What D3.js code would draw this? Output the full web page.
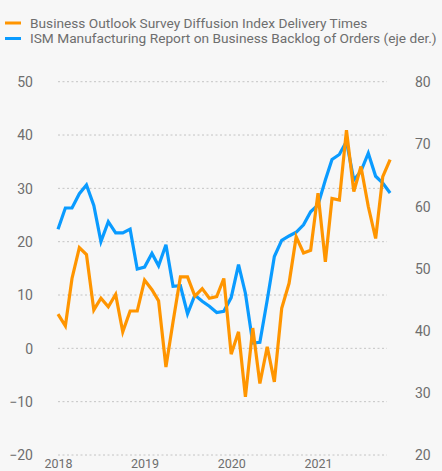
<!DOCTYPE html>
<html>
<head>
<meta charset="utf-8">
<script src="https://cdn.jsdelivr.net/npm/d3@7"></script>
<style>
  html, body { margin: 0; padding: 0; background: #f7f7f7; }
  svg { display: block; }
  text { font-family: Roboto, "Noto Sans", sans-serif; fill: #6e6e6e; }
</style>
</head>
<body>
<svg></svg>
<script>
var months = [
  '2018-01', '2018-02', '2018-03', '2018-04', '2018-05', '2018-06', '2018-07', '2018-08', '2018-09', '2018-10', '2018-11', '2018-12',
  '2019-01', '2019-02', '2019-03', '2019-04', '2019-05', '2019-06', '2019-07', '2019-08', '2019-09', '2019-10', '2019-11', '2019-12',
  '2020-01', '2020-02', '2020-03', '2020-04', '2020-05', '2020-06', '2020-07', '2020-08', '2020-09', '2020-10', '2020-11', '2020-12',
  '2021-01', '2021-02', '2021-03', '2021-04', '2021-05', '2021-06', '2021-07', '2021-08', '2021-09', '2021-10', '2021-11'
];
// left axis
var deliveryTimes = [
  6.4, 4.2, 13.1, 18.9, 17.6, 7.2, 9.4, 7.8, 10.1, 3.1, 7.0, 7.0,
  12.8, 11.0, 8.9, -3.5, 5.0, 13.4, 13.4, 9.8, 11.2, 9.4, 9.7, 13.1,
  -1.1, 3.1, -9.1, 3.8, -6.6, 0.3, -6.3, 7.5, 12.2, 20.9, 17.9, 18.4,
  29.1, 16.2, 28.1, 27.8, 40.9, 29.4, 34.1, 26.6, 20.6, 32.2, 35.4
];
// right axis (eje der.)
var backlogOrders = [
  56.3, 59.7, 59.7, 62.0, 63.4, 60.1, 54.3, 57.5, 55.7, 55.7, 56.3, 49.9,
  50.2, 52.4, 50.4, 53.8, 47.1, 47.2, 42.7, 45.7, 44.7, 43.9, 42.9, 43.1,
  45.3, 50.6, 46.0, 38.0, 38.1, 44.9, 51.9, 54.5, 55.2, 55.8, 57.0, 59.1,
  60.2, 64.2, 67.5, 68.3, 70.4, 64.2, 65.6, 68.5, 64.8, 63.7, 62.1
];
var leftTicks = [-20, -10, 0, 10, 20, 30, 40, 50];
var rightTicks = [20, 30, 40, 50, 60, 70, 80];
var yearTicks = ['2018', '2019', '2020', '2021'];
var legendLabels = [
  'Business Outlook Survey Diffusion Index Delivery Times',
  'ISM Manufacturing Report on Business Backlog of Orders (eje der.)'
];

window.Chart = (function() {
  var W = 442, H = 471;
  var ORANGE = '#ff9500';
  var BLUE = '#0a9bff';
  var parse = d3.timeParse('%Y-%m');
  var dates = months.map(parse);

  var x = d3.scaleTime()
    .domain([parse('2018-01'), parse('2021-01')])
    .range([58, 318]);
  var yL = d3.scaleLinear().domain([-20, 50]).range([455, 81.7]);
  var yR = d3.scaleLinear().domain([20, 80]).range([455, 81.7]);

  var draw = function draw() {
    var $svg = d3.select('svg').attr('width', W).attr('height', H);

    // Grid lines follow the left axis
    $svg.append('g').selectAll('line').data(leftTicks).enter().append('line')
      .attr('x1', 58).attr('x2', 387)
      .attr('y1', function(d) { return yL(d); })
      .attr('y2', function(d) { return yL(d); })
      .attr('stroke', '#c4c4c4')
      .attr('stroke-width', 1)
      .attr('stroke-dasharray', '2,2.5');

    var leftAxis = d3.axisLeft(yL).tickValues(leftTicks).tickSize(0).tickPadding(0);
    $svg.append('g').attr('transform', 'translate(33,0)').call(leftAxis)
      .call(function(g) { g.select('.domain').remove(); })
      .selectAll('text').attr('font-size', 14).attr('dy', '0.35em');

    var rightAxis = d3.axisRight(yR).tickValues(rightTicks).tickSize(0).tickPadding(0);
    $svg.append('g').attr('transform', 'translate(415,0)').call(rightAxis)
      .call(function(g) { g.select('.domain').remove(); })
      .selectAll('text').attr('font-size', 14).attr('dy', '0.35em');

    var xAxis = d3.axisBottom(x)
      .tickValues(yearTicks.map(function(d) { return parse(d + '-01'); }))
      .tickFormat(d3.timeFormat('%Y')).tickSize(0).tickPadding(0);
    $svg.append('g').attr('transform', 'translate(0,459)').call(xAxis)
      .call(function(g) { g.select('.domain').remove(); })
      .selectAll('text').attr('font-size', 12.5).attr('dy', '0.72em');

    // Series: blue underneath, orange on top
    var lineR = d3.line()
      .x(function(d, i) { return x(dates[i]); })
      .y(function(d) { return yR(d); });
    var lineL = d3.line()
      .x(function(d, i) { return x(dates[i]); })
      .y(function(d) { return yL(d); });

    $svg.append('path').datum(backlogOrders)
      .attr('d', lineR)
      .attr('fill', 'none').attr('stroke', BLUE)
      .attr('stroke-width', 3.2).attr('stroke-linejoin', 'miter');
    $svg.append('path').datum(deliveryTimes)
      .attr('d', lineL)
      .attr('fill', 'none').attr('stroke', ORANGE)
      .attr('stroke-width', 3.2).attr('stroke-linejoin', 'miter');

    // Legend
    var colors = [ORANGE, BLUE];
    var $leg = $svg.append('g').selectAll('g').data(legendLabels).enter().append('g')
      .attr('transform', function(d, i) { return 'translate(0,' + (23 + i * 15.5) + ')'; });
    $leg.append('line')
      .attr('x1', 5).attr('x2', 21).attr('y1', 0).attr('y2', 0)
      .attr('stroke', function(d, i) { return colors[i]; })
      .attr('stroke-width', 3);
    $leg.append('text')
      .attr('x', 30).attr('y', 0).attr('dy', '0.35em')
      .attr('font-size', 13.7)
      .text(function(d) { return d; });
  };

  return { draw: draw };
})();

Chart.draw();
</script>
</body>
</html>
